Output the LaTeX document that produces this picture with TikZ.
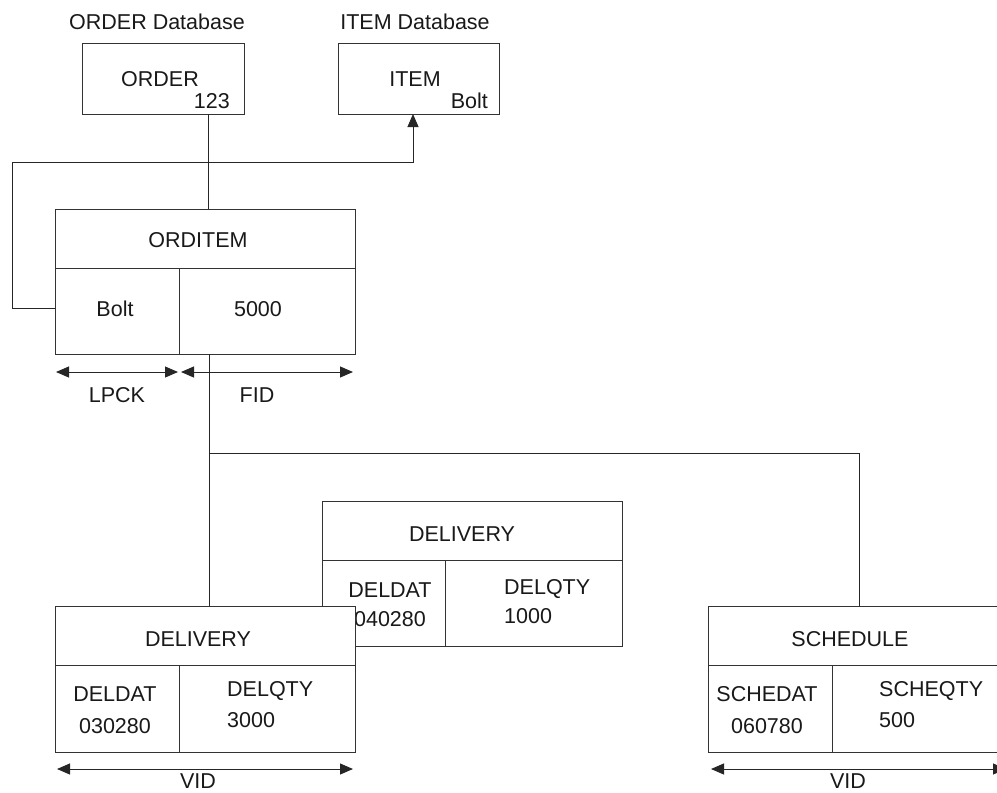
\documentclass[tikz,border=0pt]{standalone}
\usepackage{fontspec}
\setmainfont{Liberation Sans}
\usetikzlibrary{arrows.meta}
\begin{document}
\begin{tikzpicture}[x=1pt,y=-1pt,
  box/.style={draw=black!80, line width=1pt, rectangle, inner sep=0pt, outer sep=0pt, anchor=north west, fill=white},
  lbl/.style={inner sep=0pt, text height=15pt, text depth=0pt, font=\fontsize{21.5}{25}\selectfont, text=black!90},
  conn/.style={draw=black!85, line width=1pt},
  tip/.style={-{Triangle[length=13pt,width=11pt]}},
  dim/.style={{Triangle[length=13pt,width=11pt]}-{Triangle[length=13pt,width=11pt]}}
]
\clip (0,0) rectangle (997,793);

% top databases
\node[box, minimum width=162pt, minimum height=71pt] (order) at (82,43) {};
\node[box, minimum width=161pt, minimum height=71pt] (item) at (338,43) {};
\node[lbl] (orderdb) at (157,22) {ORDER Database};
\node[lbl] (itemdb) at (415,22) {ITEM Database};
\node[lbl] (ordert) at (160,79) {ORDER};
\node[lbl, anchor=east] (ordk) at (230,101) {123};
\node[lbl] (itemt) at (415,79) {ITEM};
\node[lbl, anchor=east] (itemk) at (488,101) {Bolt};

% ORDITEM
\node[box, minimum width=300pt, minimum height=59pt] (oi) at (55,209) {};
\node[box, minimum width=124pt, minimum height=86pt] (oia) at (55,268) {};
\node[box, minimum width=176pt, minimum height=86pt] (oib) at (179,268) {};
\node[lbl] (oit) at (198,240) {ORDITEM};
\node[lbl] (oiat) at (115,309) {Bolt};
\node[lbl] (oibt) at (258,309) {5000};
\draw[conn,dim] ([xshift=1pt,yshift=-18pt]oia.south west) -- ([xshift=-1pt,yshift=-18pt]oia.south east);
\draw[conn,dim] ([xshift=2pt,yshift=-18pt]oib.south west) -- ([xshift=-2pt,yshift=-18pt]oib.south east);
\node[lbl] (lpck) at (117,395) {LPCK};
\node[lbl] (fid) at (257,395) {FID};

% connectors at top
\draw[conn] ([xshift=45pt]order.south) -- ([xshift=45pt]order.south |- oi.north);
\coordinate (bend) at (12,162);
\draw[conn,tip] ([yshift=3pt]oia.west) -| (bend) -| ([xshift=-5.5pt]item.south);

% back DELIVERY
\node[box, minimum width=300pt, minimum height=59pt] (d2) at (322,501) {};
\node[box, minimum width=123pt, minimum height=86pt] (d2a) at (322,560) {};
\node[box, minimum width=177pt, minimum height=86pt] (d2b) at (445,560) {};
\node[lbl] (d2t) at (462,534) {DELIVERY};
\node[lbl] (d2at) at (390,590) {DELDAT};
\node[lbl] (d2av) at (390,619) {040280};
\node[lbl, anchor=west] (d2bt) at (504,587) {DELQTY};
\node[lbl, anchor=west] (d2bv) at (504,616) {1000};

% front DELIVERY
\node[box, minimum width=300pt, minimum height=59pt] (d1) at (55,606) {};
\node[box, minimum width=124pt, minimum height=87pt] (d1a) at (55,665) {};
\node[box, minimum width=176pt, minimum height=87pt] (d1b) at (179,665) {};
\node[lbl] (d1t) at (198,639) {DELIVERY};
\node[lbl] (d1at) at (115,694) {DELDAT};
\node[lbl] (d1av) at (115,726) {030280};
\node[lbl, anchor=west] (d1bt) at (227,689) {DELQTY};
\node[lbl, anchor=west] (d1bv) at (227,720) {3000};
\draw[conn,dim] ([xshift=2pt,yshift=-17pt]d1a.south west) -- ([xshift=-2pt,yshift=-17pt]d1b.south east);
\node[lbl] (vid1) at (198,781) {VID};

% SCHEDULE
\node[box, minimum width=300pt, minimum height=59pt] (sch) at (708,606) {};
\node[box, minimum width=124pt, minimum height=87pt] (scha) at (708,665) {};
\node[box, minimum width=176pt, minimum height=87pt] (schb) at (832,665) {};
\node[lbl] (scht) at (850,639) {SCHEDULE};
\node[lbl] (schat) at (767,694) {SCHEDAT};
\node[lbl] (schav) at (767,726) {060780};
\node[lbl, anchor=west] (schbt) at (879,689) {SCHEQTY};
\node[lbl, anchor=west] (schbv) at (879,720) {500};
\draw[conn,dim] ([xshift=3pt,yshift=-17pt]scha.south west) -- ([xshift=-2pt,yshift=-17pt]schb.south east);
\node[lbl] (vid2) at (848,781) {VID};

% trunk connectors
\coordinate (trunk) at (209,453);
\draw[conn] (oib.south -| trunk) -- (d1.north -| trunk);
\draw[conn] (trunk) -| ([xshift=1pt]sch.north);
\end{tikzpicture}
\end{document}
